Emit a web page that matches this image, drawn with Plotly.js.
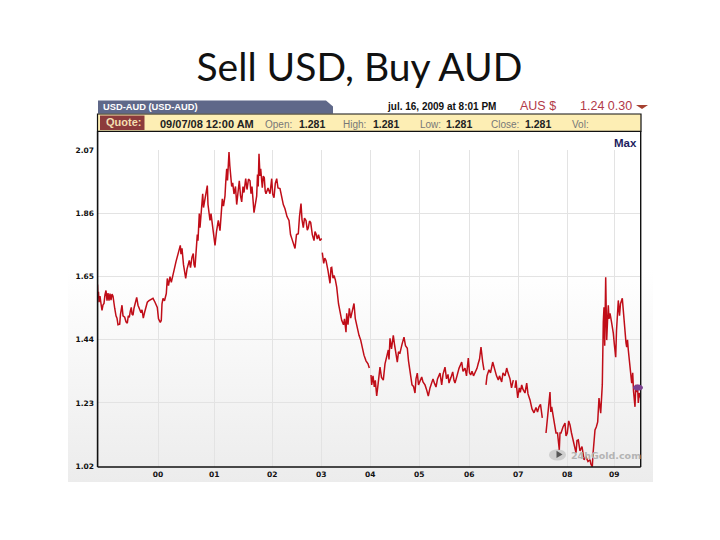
<!DOCTYPE html>
<html><head><meta charset="utf-8">
<script src="https://cdn.plot.ly/plotly-3.0.1.min.js"></script>
<style>
html,body{margin:0;padding:0;background:#fff;width:720px;height:540px;overflow:hidden}
#bg{position:absolute;left:68px;top:96px;width:585px;height:386px;background:linear-gradient(to bottom,#fff 0%,#fff 45%,#ececec 100%)}
#chart{position:absolute;left:0;top:0;width:720px;height:540px}
</style></head><body>
<div id="bg"></div><div id="chart"></div>
<script>
const titleText = "Sell USD, Buy AUD";
const seriesName = "USD-AUD (USD-AUD)";
const yTicks = [1.02,1.23,1.44,1.65,1.86,2.07];
const yTickLabels = ["1.02","1.23","1.44","1.65","1.86","2.07"];
const xTicks = [61,117.3,175.3,224.3,273.3,322.3,372.3,421.3,470.3,517.3];
const xTickLabels = ["00","01","02","03","04","05","06","07","08","09"];
const periods = [
0.5,1,1.5,2,3,4,5,6,7,8,
9,10,11,12,13,14,15,16,16.7,17.7,
19,20,21,22.7,23.5,25,26,27.7,29,30.3,
31.3,32.3,33.3,34.3,35,36,37,38.5,39.7,41,
42.7,44,45,46.3,47.5,49,50.3,52,54,56,
58,60.3,61.5,63.3,64.3,65,66,67.5,69.3,70.3,
71.5,73,74.3,76,77.7,79,81,83.3,84,85,
86.5,88.7,90,91,92.3,93.5,95,96.3,97,98,
99,100.3,101,102.3,103,104,105.7,106.5,107.3,108.5,
110.3,111,113,114,115.3,116.5,118,119.5,121.3,123,
124,125.3,126.5,128,128.7,129.7,130.5,132,132.8,133.7,
134.7,135.7,137,138.5,139.7,141,142.3,143.5,144.7,146,
147,148.7,150,151.5,153,154,155,157,158.5,159.7,
160.5,161.2,162,163,163.7,164.5,165.3,166.3,167.3,168.2,
169,171,173,174.7,175.7,177,178.3,179.7,181,183,
184.7,186.3,188,190,192,193.5,195,196.5,198,199.5,
201.3,202.5,204,205,206.3,207.5,209,210.3,211.3,212.5,
213.7,215.3,217,218,219,220.3,221.5,223,224.7,
225,225.3,226.7,227.8,229,231,233,234,234.7,236,
237,238.3,239.7,241.5,243,244.7,246.5,247.5,249,249.7,
251,252.3,253.7,255,257,258.3,260.3,262,263.7,264.7,
267,269,271,272.3,273,274,274.7,276,277.3,278.3,
279.7,281,283,284.5,286.3,288,289.5,291.3,292,293,
294.5,296.3,297.5,299,300.3,301.5,303,305,307,308.5,
310.3,311.5,313,315,316.5,318,319,320.3,321.5,323,
324.7,326,328,329.5,331.3,333,334.7,336,337.5,339,
340.5,342,343,344.7,346,348,349.5,351,352,354,
355.7,357,358,360,362,364.7,366,368,369.5,371.3,
372.5,373.7,375,376.5,378,380,381.3,382.5,384,385,
385.7,387,388,389,390,392,393.5,395.7,397.5,399.5,
401.3,402.5,404.7,406,408,409.7,411,413,414.5,415.3,
416.3,417,418,419,420.7,422.3,423.3,424.7,426,428,
429.7,431,433,435,437,439,440.5,442,443.5,445.3,
447,449,450.3,451.5,453,453.8,454.7,456.5,458,459,
460.5,462.3,463,464,466,468,469,470.3,471.7,473,
474.5,476.3,478,479,480,481.3,483,485,487,489,
491,493,494,495.3,496,497,498,499.3,500.7,502,
503.7,505.3,505.7,506.3,507,507.7,508.7,509.7,510.5,511.3,
512,513,514.5,516.3,517.5,518.7,519.5,520.3,521.3,522.5,
523.5,525.3,526.5,528,529,529.7,530.5,531.3,533,534.7,
535.7,536.5,538,538.8,539.7,540.5,541.3,542.3,543.7];
const rates = [
1.624,1.578,1.600,1.565,1.585,1.560,1.538,1.556,1.561,1.590,
1.604,1.570,1.595,1.570,1.594,1.572,1.592,1.585,1.560,1.545,
1.520,1.512,1.490,1.492,1.525,1.555,1.520,1.515,1.500,1.495,
1.520,1.515,1.535,1.548,1.525,1.522,1.545,1.570,1.581,1.555,
1.538,1.530,1.540,1.512,1.530,1.548,1.565,1.570,1.575,1.578,
1.565,1.548,1.510,1.498,1.505,1.560,1.578,1.570,1.594,1.644,
1.620,1.650,1.631,1.660,1.677,1.700,1.725,1.754,1.725,1.744,
1.690,1.644,1.675,1.690,1.704,1.680,1.715,1.727,1.690,1.681,
1.747,1.790,1.770,1.860,1.813,1.850,1.926,1.880,1.893,1.920,
1.953,1.890,1.837,1.860,1.827,1.790,1.754,1.800,1.837,1.803,
1.870,1.909,1.885,1.919,1.962,2.009,1.970,2.065,2.020,1.986,
1.950,1.962,1.925,1.950,1.890,1.930,1.969,1.920,1.899,1.950,
1.930,1.976,1.940,1.975,1.969,1.926,1.950,1.863,1.900,1.919,
1.990,1.950,2.059,1.985,2.009,1.960,1.946,1.985,1.979,1.935,
1.926,1.945,1.926,1.976,1.925,1.913,1.960,1.976,1.945,1.943,
1.913,1.890,1.876,1.850,1.837,1.790,1.775,1.760,1.744,1.790,
1.793,1.850,1.893,1.840,1.813,1.845,1.837,1.805,1.813,1.835,
1.830,1.790,1.770,1.800,1.793,1.775,1.790,1.770,1.777,
null,1.730,1.694,1.712,1.704,1.670,1.628,1.680,1.681,1.645,
1.654,1.640,1.615,1.560,1.530,1.505,1.490,1.510,1.465,1.528,
1.490,1.545,1.512,1.530,1.561,1.510,1.478,1.455,1.439,1.422,
1.389,1.370,1.360,1.346,null,1.323,1.290,1.320,1.283,1.305,
1.253,1.290,1.349,1.315,1.306,1.360,1.385,1.406,1.375,1.445,
1.410,1.455,1.425,1.400,1.366,1.400,1.396,1.425,1.449,1.420,
1.412,1.370,1.339,1.290,1.285,1.263,1.310,1.329,1.290,1.300,
1.316,1.300,1.290,1.275,1.253,1.280,1.300,1.310,1.295,1.283,
1.310,1.320,1.329,1.290,1.325,1.349,1.310,1.325,1.296,1.315,
1.333,1.305,1.296,1.320,1.345,1.366,1.335,1.346,1.320,1.379,
1.330,1.323,1.335,1.320,1.329,1.345,1.362,1.375,1.416,1.380,
1.366,1.339,null,1.290,1.320,1.340,1.330,1.366,1.340,1.320,
1.306,1.320,1.300,1.330,1.320,1.346,1.330,1.310,1.280,1.290,
1.306,null,1.280,1.305,1.247,1.280,1.265,1.290,1.275,1.263,
1.296,1.260,1.240,1.210,1.197,1.215,1.200,1.217,1.225,1.180,
null,1.130,1.173,1.210,1.266,1.200,1.217,1.180,1.140,1.130,
1.130,1.074,1.130,1.130,1.150,1.163,1.120,1.130,1.170,1.157,
1.130,1.107,1.080,1.064,1.105,1.107,1.070,1.085,1.041,1.050,
1.035,1.041,1.025,1.018,1.060,1.110,1.140,1.150,1.167,1.246,
1.196,1.290,1.412,1.500,1.548,1.420,1.648,1.439,1.500,1.555,
1.510,1.528,1.500,1.462,1.420,1.382,1.470,1.522,1.571,1.520,
1.560,1.578,1.520,1.472,1.430,1.416,1.440,1.406,1.349,1.296,
1.330,1.270,1.217,1.290,1.266,1.290,1.230,1.263,1.246];
const currentPeriod = [541];
const currentRate = [1.281];

const L=97, R=641, T=149.6, B=467.4;
const fx = p => (p-L)/(R-L);
const fy = p => (B-p)/(B-T);
function txt(x,y,text,size,color,bold,anchor,family){
  return {xref:'paper',yref:'paper',x:fx(x),y:fy(y),text:bold?'<b>'+text+'</b>':text,showarrow:false,
    xanchor:anchor||'left',yanchor:'middle',borderpad:0,
    font:{size:size,color:color,family:family||'"Liberation Sans",Arial,sans-serif'}};
}
function rect(x0,y0,x1,y1,fill,line,lw){
  return {type:'rect',xref:'paper',yref:'paper',x0:fx(x0),x1:fx(x1),y0:fy(y0),y1:fy(y1),
    fillcolor:fill,line:{color:line||'rgba(0,0,0,0)',width:lw||0},layer:'above'};
}
const shapes=[
  {type:'path',xref:'paper',yref:'paper',fillcolor:'#5f6889',line:{width:0},layer:'above',
   path:`M ${fx(98)} ${fy(113)} L ${fx(98)} ${fy(100)} L ${fx(326)} ${fy(100)} L ${fx(333)} ${fy(106)} L ${fx(333)} ${fy(113)} Z`},
  rect(97.5,113.5,641,131,'#fdeeb4','#111',1.2),
  rect(100,115,144.5,129.5,'#8c3b3c'),
  {type:'line',xref:'paper',yref:'paper',x0:fx(97.6),x1:fx(97.6),y0:fy(131),y1:fy(467.4),line:{color:'#111',width:1.6},layer:'above'},
  {type:'line',xref:'paper',yref:'paper',x0:fx(640.7),x1:fx(640.7),y0:fy(131),y1:fy(467.4),line:{color:'#111',width:1.4},layer:'above'},
  {type:'line',xref:'paper',yref:'paper',x0:fx(97.6),x1:fx(640.7),y0:fy(467.4),y1:fy(467.4),line:{color:'#111',width:1.4},layer:'above'},
  {type:'path',xref:'paper',yref:'paper',fillcolor:'#a5402f',line:{width:0},layer:'above',
   path:`M ${fx(636)} ${fy(104.5)} L ${fx(648)} ${fy(104.5)} L ${fx(642)} ${fy(108.5)} Z`},
  {type:'circle',xref:'paper',yref:'y',ysizemode:'pixel',yanchor:currentRate[0],y0:-3,y1:3,
   x0:fx(L+currentPeriod[0]-5),x1:fx(L+currentPeriod[0]+5),fillcolor:'#7b4190',line:{width:0},layer:'above'},
  {type:'circle',xref:'paper',yref:'paper',x0:fx(549),x1:fx(566),y0:fy(461),y1:fy(449.5),fillcolor:'#cfcfcf',line:{width:0},layer:'below'},
  {type:'path',xref:'paper',yref:'paper',fillcolor:'#555',line:{width:0},layer:'above',
   path:`M ${fx(556.5)} ${fy(451)} L ${fx(562.5)} ${fy(454.8)} L ${fx(556.5)} ${fy(458.5)} Z`}
];
const B2='"DejaVu Sans",Verdana,sans-serif';
const annotations=[
  txt(101.5,106,seriesName,9.3,'#fff',true,'left'),
  txt(105,122,'Quote:',11,'#f3dfb0',true,'left'),
  txt(158.7,123.5,'09/07/08 12:00 AM',11,'#222',true,'left'),
  txt(264,124,'Open:',10,'#777',false),txt(298,123.5,'1.281',10.5,'#222',true),
  txt(342,124,'High:',10,'#777',false),txt(372,123.5,'1.281',10.5,'#222',true),
  txt(419,124,'Low:',10,'#777',false),txt(445,123.5,'1.281',10.5,'#222',true),
  txt(490,124,'Close:',10,'#777',false),txt(524,123.5,'1.281',10.5,'#222',true),
  txt(571,124,'Vol:',10,'#777',false),
  txt(386,105.7,'jul. 16, 2009 at 8:01 PM',10,'#111',true),
  txt(519,105,'AUS $',12.5,'#b23a48',false),
  txt(579,105,'1.24 0.30',12.5,'#b23a48',false),
  txt(638,142.5,'Max',11.5,'#1d1d5e',true,'right'),
  txt(570,455.5,'24hGold.com',9.5,'#b4b4b4',true,'left',B2)
];
const data=[
 {type:'scatter',mode:'lines',x:periods,y:rates,connectgaps:false,line:{color:'#c00d18',width:1.5},hoverinfo:'skip'}
];
const layout={
  width:720,height:540,showlegend:false,
  paper_bgcolor:'rgba(0,0,0,0)',plot_bgcolor:'rgba(0,0,0,0)',
  margin:{l:L,r:720-R,t:T,b:540-B,pad:0},
  title:{text:titleText,x:0.4993,xref:'container',xanchor:'center',y:1-67/540,yref:'container',yanchor:'middle',
    font:{family:'Lato,"Open Sans",sans-serif',size:39,color:'#111'}},
  xaxis:{range:[0,544],tickmode:'array',tickvals:xTicks,ticktext:xTickLabels,showgrid:true,gridcolor:'#e3e3e3',gridwidth:1,
    zeroline:false,showline:false,ticks:'',tickangle:0,ticklabelstandoff:1,
    tickfont:{family:B2,size:7.5,color:'#111',weight:700}},
  yaxis:{range:[1.0168,2.0715],tickmode:'array',tickvals:yTicks,ticktext:yTickLabels,showgrid:true,gridcolor:'#e3e3e3',gridwidth:1,
    zeroline:false,showline:false,ticks:'',ticklabelstandoff:2,
    tickfont:{family:B2,size:7.5,color:'#111',weight:700}},
  shapes:shapes,annotations:annotations
};
Plotly.newPlot('chart',data,layout,{displayModeBar:false,staticPlot:true});
</script></body></html>
